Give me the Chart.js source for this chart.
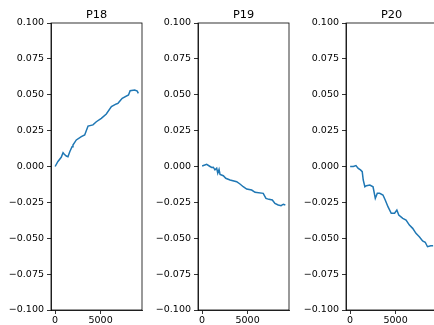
<!DOCTYPE html>
<html>
<head>
<meta charset="utf-8">
<script src="https://cdn.jsdelivr.net/npm/chart.js@4/dist/chart.umd.min.js"></script>
<style>
  html, body { margin: 0; padding: 0; background: #fff; overflow: hidden; }
  #wrap { position: relative; width: 434px; height: 325px; overflow: hidden; }
  canvas { position: absolute; top: 0; }
</style>
</head>
<body>
<div id="wrap">
  <canvas id="c1" width="146" height="325" style="left:0px"></canvas>
  <canvas id="c2" width="146" height="325" style="left:147px"></canvas>
  <canvas id="c3" width="146" height="325" style="left:295px"></canvas>
</div>
<script>
// panel titles
const titles = ['P18', 'P19', 'P20'];

// x positions (steps) and values
const p18x = [0, 310, 670, 870, 1010, 1230, 1410, 1610, 1860, 1960, 2330, 2880, 3250, 3620, 4160, 4530, 5080, 5630, 6190, 6730, 6910, 7380, 8070, 8250, 8750, 9030, 9150];
const p18y = [0.000, 0.0035, 0.0064, 0.0096, 0.0085, 0.0073, 0.0068, 0.0103, 0.0138, 0.0150, 0.0185, 0.0208, 0.0220, 0.0282, 0.0290, 0.0312, 0.0336, 0.0366, 0.0417, 0.0436, 0.0440, 0.0475, 0.0498, 0.0528, 0.0533, 0.0526, 0.0510];

const p19x = [0, 500, 870, 1050, 1230, 1410, 1600, 1720, 1860, 1970, 2330, 2600, 3070, 3800, 4160, 4520, 4900, 5450, 5820, 6720, 7020, 7350, 7720, 8010, 8370, 8680, 8930, 9150];
const p19y = [0.0003, 0.0015, 0.0000, -0.0007, -0.0005, -0.0023, -0.0012, -0.0047, -0.0020, -0.0055, -0.0064, -0.0082, -0.0094, -0.0106, -0.0122, -0.0141, -0.0157, -0.0164, -0.0180, -0.0187, -0.0222, -0.0229, -0.0233, -0.0257, -0.0268, -0.0273, -0.0263, -0.0268];

const p20x = [0, 350, 640, 890, 1140, 1330, 1440, 1620, 1800, 2170, 2520, 2770, 2990, 3250, 3610, 3860, 4160, 4520, 4890, 5140, 5350, 5790, 6150, 6520, 6880, 7240, 7610, 7970, 8260, 8510, 8870, 9130];
const p20y = [0.000, 0.000, 0.0006, -0.0013, -0.0024, -0.0036, -0.0094, -0.0141, -0.0134, -0.0129, -0.0141, -0.0222, -0.0187, -0.0187, -0.0199, -0.0233, -0.0280, -0.0326, -0.0326, -0.0303, -0.0338, -0.0361, -0.0373, -0.0408, -0.0431, -0.0466, -0.0489, -0.0519, -0.0528, -0.0559, -0.0552, -0.0552];

// tick values
const yTicks = [-0.1, -0.075, -0.05, -0.025, 0, 0.025, 0.05, 0.075, 0.1];
const xTicks = [0, 5000];

const FONT = { family: 'DejaVu Sans', size: 9.5 };

// draws the full box around the plot area and the panel title
const framePlugin = {
  id: 'frame',
  afterDraw(chart, args, opts) {
    const a = chart.chartArea;
    const ctx = chart.ctx;
    ctx.save();
    ctx.strokeStyle = '#000';
    ctx.lineWidth = 0.8;
    ctx.strokeRect(a.left, a.top, a.right - a.left, a.bottom - a.top);
    ctx.fillStyle = '#000';
    ctx.font = '11.3px "DejaVu Sans"';
    ctx.textAlign = 'center';
    ctx.textBaseline = 'alphabetic';
    ctx.fillText(opts.text, (a.left + a.right) / 2, a.top - 5);
    ctx.restore();
  }
};

function makePanel(id, title, xs, ys) {
  const points = xs.map((x, i) => ({ x: x, y: ys[i] }));
  return new Chart(id, {
    type: 'line',
    data: {
      datasets: [{
        data: points,
        borderColor: '#1f77b4',
        borderWidth: 1.5,
        pointRadius: 0,
        tension: 0,
        fill: false
      }]
    },
    plugins: [framePlugin],
    options: {
      responsive: false,
      animation: false,
      layout: { padding: { top: 23, right: 4, left: 0, bottom: 0 } },
      plugins: {
        legend: { display: false },
        tooltip: { enabled: false },
        frame: { text: title }
      },
      scales: {
        x: {
          type: 'linear',
          min: -455,
          max: 9555,
          afterFit(scale) { scale.height = 15; },
          afterBuildTicks(scale) { scale.ticks = xTicks.map(v => ({ value: v })); },
          grid: { drawOnChartArea: false, drawTicks: true, tickLength: 4, tickColor: '#000', tickWidth: 0.8 },
          border: { display: true, color: '#000', width: 0.8 },
          ticks: { color: '#000', font: FONT, padding: 1, maxRotation: 0, autoSkip: false,
                   callback: v => String(v) }
        },
        y: {
          min: -0.1,
          max: 0.1,
          afterFit(scale) { scale.width = 51; },
          afterBuildTicks(scale) { scale.ticks = yTicks.map(v => ({ value: v })); },
          grid: { drawOnChartArea: false, drawTicks: true, tickLength: 4, tickColor: '#000', tickWidth: 0.8 },
          border: { display: true, color: '#000', width: 0.8 },
          ticks: {
            color: '#000',
            font: FONT,
            padding: 3,
            autoSkip: false,
            callback: v => v.toFixed(3).replace('-', '\u2212')
          }
        }
      }
    }
  });
}

makePanel('c1', titles[0], p18x, p18y);
makePanel('c2', titles[1], p19x, p19y);
makePanel('c3', titles[2], p20x, p20y);
</script>
</body>
</html>
